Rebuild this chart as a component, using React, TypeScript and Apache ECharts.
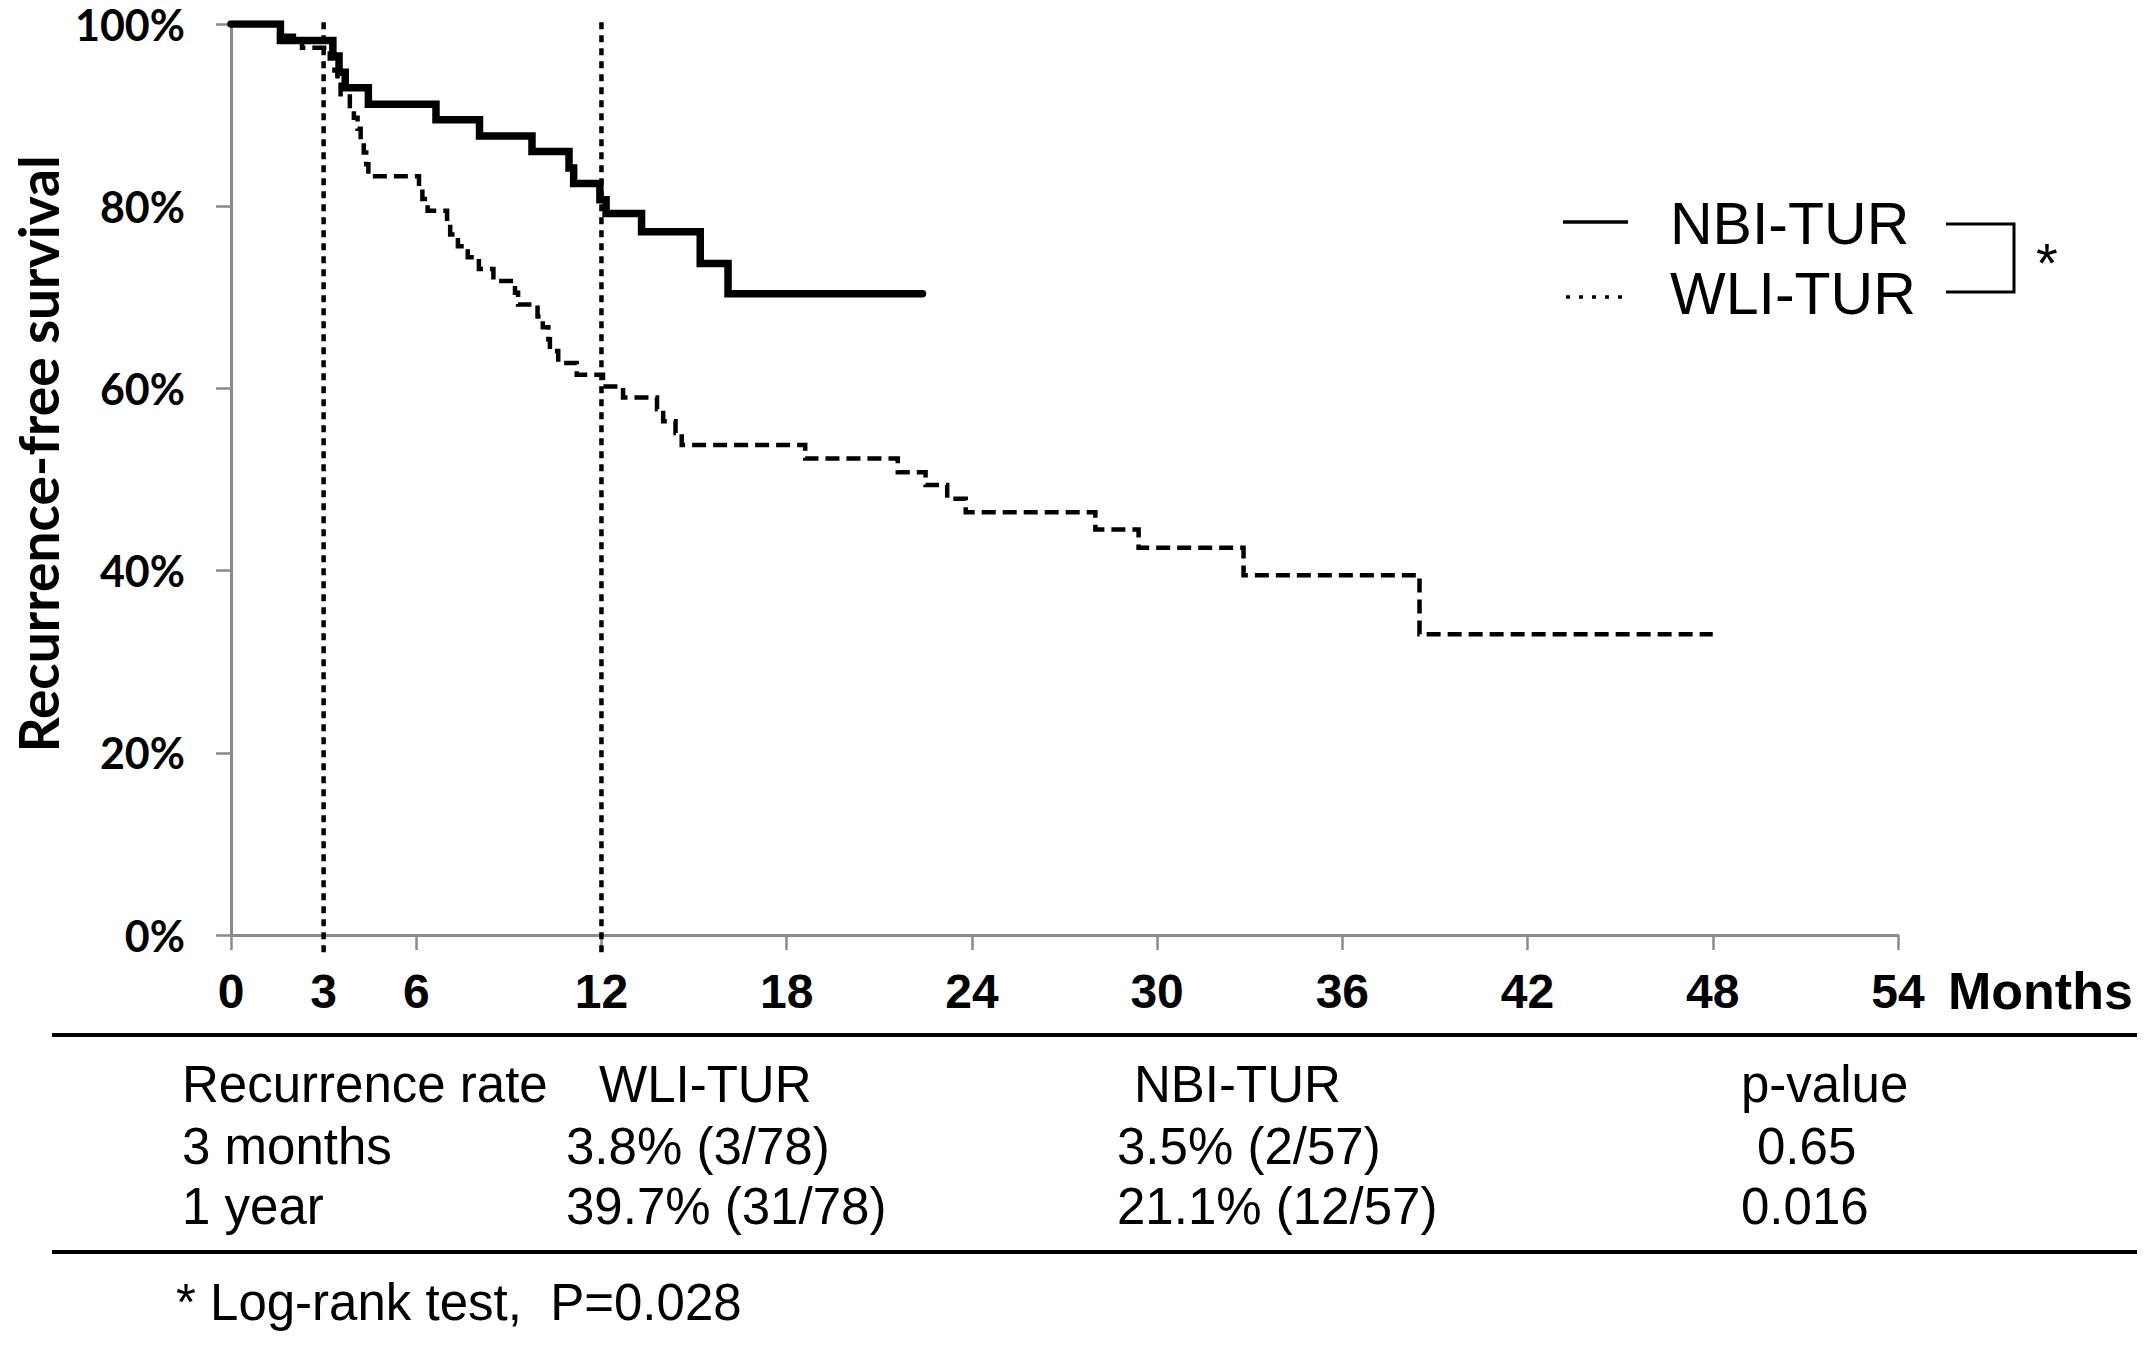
import React, { useEffect, useRef } from "react";
import * as echarts from "echarts";

// ---- data ----
const nbiTimes = [0, 1.6, 3.3, 3.5, 3.7, 4.45, 6.64, 8.05, 9.75, 10.95, 11.1, 11.95, 12.15, 13.3, 15.2, 16.1, 22.4];
const nbiSurv = [100, 98.2, 96.5, 94.7, 93.0, 91.2, 89.5, 87.7, 86.0, 84.2, 82.5, 80.7, 79.2, 77.2, 73.7, 70.4, 70.4];

const wliTimes = [0, 1.6, 2.3, 3.2, 3.35, 3.45, 3.55, 3.85, 3.98, 4.1, 4.2, 4.3, 4.38, 4.45, 6.09, 6.2, 6.37, 7.0, 7.1, 7.35, 7.67, 8.03, 8.5, 9.2, 9.3, 9.93, 10.1, 10.28, 10.33, 10.6, 11.2, 12.05, 12.7, 13.8, 14.0, 14.4, 14.6, 18.6, 21.6, 22.5, 23.2, 23.8, 28.0, 29.4, 32.8, 38.5, 48.0];
const wliSurv = [100, 98.7, 97.4, 96.2, 94.9, 93.6, 92.3, 91.0, 89.7, 88.5, 87.2, 85.9, 84.6, 83.3, 82.1, 80.8, 79.5, 78.2, 76.9, 75.6, 74.4, 73.1, 71.8, 70.5, 69.2, 67.9, 66.7, 65.4, 64.1, 62.8, 61.5, 60.2, 59.0, 57.7, 56.4, 55.1, 53.8, 52.3, 50.8, 49.4, 47.9, 46.4, 44.5, 42.5, 39.5, 33.0, 33.0];

const refMonths = [3, 12];
const refExtent = [-1.9, 100.3];

const xLabelValues = [0, 3, 6, 12, 18, 24, 30, 36, 42, 48, 54];
const xTickValues = [0, 6, 12, 18, 24, 30, 36, 42, 48, 54];

const legendNames = ["NBI-TUR", "WLI-TUR"];
const tableHeader = ["Recurrence rate", "WLI-TUR", "NBI-TUR", "p-value"];
const tableRow1 = ["3 months", "3.8% (3/78)", "3.5% (2/57)", "0.65"];
const tableRow2 = ["1 year", "39.7% (31/78)", "21.1% (12/57)", "0.016"];
const footnote = "* Log-rank test,  P=0.028";

const SANS = "'Liberation Sans', Arial, Helvetica, sans-serif";
const CALI = "Lato, 'Open Sans', sans-serif";

export default function App() {
  const ref = useRef<HTMLDivElement>(null);

  useEffect(() => {
    if (!ref.current) return;
    const chart = echarts.init(ref.current, null, { renderer: "svg" });

    const nbiData = nbiTimes.map((t, i) => [t, nbiSurv[i]]);
    const wliData = wliTimes.map((t, i) => [t, wliSurv[i]]);

    const refSeries = refMonths.map((m) => ({
      type: "line",
      data: [
        [m, refExtent[0]],
        [m, refExtent[1]],
      ],
      symbol: "none",
      clip: false,
      silent: true,
      lineStyle: { color: "#000", width: 4.5, type: [7, 6] },
      z: 1,
    }));

    const txt = (x: number, y: number, text: string, fs: number, extra: any = {}) => ({
      type: "text",
      x,
      y,
      style: {
        text,
        fontSize: fs,
        fontFamily: SANS,
        fill: "#000",
        textAlign: "left",
        textVerticalAlign: "middle",
        ...extra,
      },
    });

    const colX = [182, 599, 1134, 1741];
    const row1X = [182, 566, 1117, 1757];
    const row2X = [182, 566, 1117, 1741];
    const tfs = 51;

    const graphics: any[] = [
      // y axis title
      {
        type: "text",
        x: 38,
        y: 454,
        rotation: Math.PI / 2,
        style: {
          text: "Recurrence-free survival",
          fontSize: 55,
          fontWeight: "bold",
          fontFamily: CALI,
          fill: "#000",
          textAlign: "center",
          textVerticalAlign: "middle",
        },
      },
      // Months
      txt(1948, 991, "Months", 52, { fontWeight: "bold" }),
      // legend
      { type: "line", shape: { x1: 1563, y1: 222, x2: 1628, y2: 222 }, style: { stroke: "#000", lineWidth: 3.5 } },
      {
        type: "line",
        shape: { x1: 1566, y1: 297, x2: 1626, y2: 297 },
        style: { stroke: "#000", lineWidth: 3.5, lineDash: [4, 9] },
      },
      txt(1670, 224, legendNames[0], 59),
      txt(1670, 294, legendNames[1], 59),
      {
        type: "polyline",
        shape: { points: [[1946, 224], [2014, 224], [2014, 292], [1946, 292]] },
        style: { stroke: "#000", lineWidth: 3, fill: null },
      },
      txt(2036, 262, "*", 56),
      // table rules
      { type: "line", shape: { x1: 52, y1: 1035, x2: 2137, y2: 1035 }, style: { stroke: "#000", lineWidth: 4 } },
      { type: "line", shape: { x1: 52, y1: 1252, x2: 2137, y2: 1252 }, style: { stroke: "#000", lineWidth: 4 } },
      ...tableHeader.map((s, i) => txt(colX[i], 1084, s, tfs)),
      ...tableRow1.map((s, i) => txt(row1X[i], 1146, s, tfs)),
      ...tableRow2.map((s, i) => txt(row2X[i], 1206, s, tfs)),
      txt(176, 1302, footnote, tfs),
    ];

    chart.setOption({
      animation: false,
      backgroundColor: "#fff",
      grid: { left: 231, top: 24, width: 1667, height: 911, containLabel: false },
      xAxis: {
        type: "value",
        min: 0,
        max: 54,
        interval: 6,
        axisLine: { show: true, lineStyle: { color: "#8a8a8a", width: 3 } },
        axisTick: { show: true, length: 15, customValues: xTickValues, lineStyle: { color: "#8a8a8a", width: 2.5 } },
        axisLabel: {
          customValues: xLabelValues,
          margin: 32,
          fontSize: 48,
          fontWeight: "bold",
          fontFamily: SANS,
          color: "#000",
        },
        splitLine: { show: false },
      },
      yAxis: {
        type: "value",
        min: 0,
        max: 100,
        interval: 20,
        axisLine: { show: true, lineStyle: { color: "#8a8a8a", width: 3 } },
        axisTick: { show: true, length: 15, lineStyle: { color: "#8a8a8a", width: 2.5 } },
        axisLabel: {
          formatter: "{value}%",
          margin: 46,
          fontSize: 43,
          fontWeight: "bold",
          fontFamily: CALI,
          color: "#000",
        },
        splitLine: { show: false },
      },
      series: [
        ...refSeries,
        {
          name: legendNames[1],
          type: "line",
          step: "end",
          data: wliData,
          symbol: "none",
          lineStyle: { color: "#000", width: 4.5, type: [14, 7], join: "miter" },
          z: 2,
        },
        {
          name: legendNames[0],
          type: "line",
          step: "end",
          data: nbiData,
          symbol: "none",
          lineStyle: { color: "#000", width: 7.5, cap: "round", join: "miter" },
          z: 3,
        },
      ],
      graphic: graphics,
    });

    return () => chart.dispose();
  }, []);

  return (
    <div
      ref={ref}
      style={{ position: "fixed", left: 0, top: 0, width: 2150, height: 1345, background: "#fff" }}
    />
  );
}
